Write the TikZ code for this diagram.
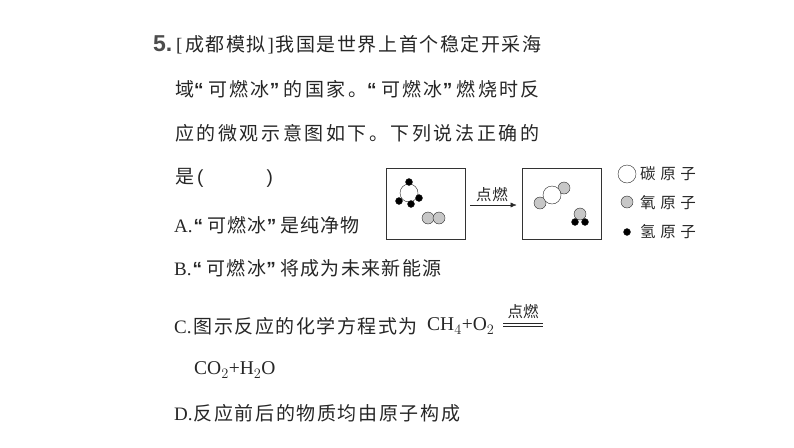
\documentclass[tikz,border=0pt]{standalone}
\usepackage{fontspec}
\setmainfont{Noto Sans CJK SC}
\newfontfamily\latinfont{Liberation Serif}
\newfontfamily\numfont{Liberation Sans}
\newcommand\spaced[1]{\addfontfeature{LetterSpace=#1}}
\newcommand\qopen{{\numfont\bfseries “}\hspace{4.5pt}}
\newcommand\qclose{{\numfont\bfseries ”}\hspace{4.5pt}}
\usetikzlibrary{arrows.meta}
\tikzset{
  textline/.style={anchor=west, inner sep=0pt, text=black!85, font=\fontsize{19}{19}\selectfont},
  panel/.style={draw, thick, black!80, minimum width=79pt, minimum height=71pt, inner sep=0pt},
  atom/.style={circle, draw=black!85, inner sep=0pt},
  carbon/.style={atom, fill=white, minimum size=18pt},
  oxygen/.style={atom, fill=black!22, minimum size=12pt},
  hydrogen/.style={atom, fill=black, minimum size=7pt},
  smalltext/.style={inner sep=0pt, text=black!85, font=\fontsize{15.5}{15.5}\selectfont},
  formula/.style={textline, font=\latinfont\fontsize{19.5}{19.5}\selectfont},
}
\begin{document}
\begin{tikzpicture}[x=1pt, y=-1pt]
  \useasboundingbox (0,0) rectangle (794,447);
  % question text
  \node[textline, font=\numfont\bfseries\fontsize{23}{23}\selectfont, text=black!70] (num) at (153,44) {5.};
  \node[textline] (l1) at (176,45) {\spaced{8}{\latinfont[}\hspace{2.5pt}成都模拟\hspace{2pt}{\latinfont]}\hspace{2pt}我国是世界上首个稳定开采海};
  \node[textline] (l2) at (175,89) {\spaced{12.5}域\qopen 可燃冰\qclose 的国家。\qopen 可燃冰\qclose 燃烧时反};
  \node[textline] (l3) at (175,133) {\spaced{13.5}应的微观示意图如下。下列说法正确的};
  \node[textline] (l4) at (175,178) {是\hspace{3pt}{\numfont(}\hspace{63pt}{\numfont)}};
  \node[textline] (la) at (174,225) {\spaced{5.5}{\latinfont A.}\hspace{1pt}\qopen 可燃冰\qclose 是纯净物};
  \node[textline] (lb) at (174,268) {\spaced{7}{\latinfont B.}\hspace{1pt}\qopen 可燃冰\qclose 将成为未来新能源};
  \node[textline] (lc) at (174,326) {\spaced{8}{\latinfont C.}\hspace{2pt}图示反应的化学方程式为};
  \node[textline] (ld) at (174,413) {\spaced{8.5}{\latinfont D.}\hspace{1pt}反应前后的物质均由原子构成};
  % equation
  \node[formula] (eq1) at (427,326) {CH$_4$+O$_2$};
  \node[formula] (eq2) at (194,370) {CO$_2$+H$_2$O};
  \node[smalltext] (cond) at (523,312) {点燃};
  \draw[thick, black!85] (503,323.5) -- (543,323.5);
  \draw[thick, black!85] (503,326.5) -- (543,326.5);
  % first box
  \node[panel] (leftbox) at (425.5,203.5) {};
  \node[carbon] (c1) at (409,193) {};
  \node[hydrogen] (h1) at (409,182) {};
  \node[hydrogen] (h2) at (399,201) {};
  \node[hydrogen] (h3) at (411,204) {};
  \node[hydrogen] (h4) at (419,198) {};
  \node[oxygen] (o1) at (428,218) {};
  \node[oxygen] (o2) at (439,218) {};
  % second box
  \node[panel] (rightbox) at (561.5,203.5) {};
  \node[oxygen] (o3) at (540,203) {};
  \node[oxygen] (o4) at (564,188) {};
  \node[carbon] (c2) at (552,195) {};
  \node[oxygen] (o5) at (580,214) {};
  \node[hydrogen] (h5) at (575,222) {};
  \node[hydrogen] (h6) at (585,222) {};
  % arrow
  \node[smalltext] (fire) at (492,195) {\spaced{5}点燃};
  \draw[-{Latex[length=6pt, width=5pt]}, black!85] ([xshift=5pt, yshift=-1.5pt]leftbox.east) -- ([xshift=-5pt, yshift=-1.5pt]rightbox.west);
  % legend
  \node[carbon] (keyc) at (627,174) {};
  \node[oxygen] (keyo) at (627,202) {};
  \node[hydrogen] (keyh) at (627,232) {};
  \node[smalltext, anchor=west] (namec) at (640,174) {\spaced{30}碳原子};
  \node[smalltext, anchor=west] (nameo) at (640,203) {\spaced{30}氧原子};
  \node[smalltext, anchor=west] (nameh) at (640,232) {\spaced{30}氢原子};
\end{tikzpicture}
\end{document}
